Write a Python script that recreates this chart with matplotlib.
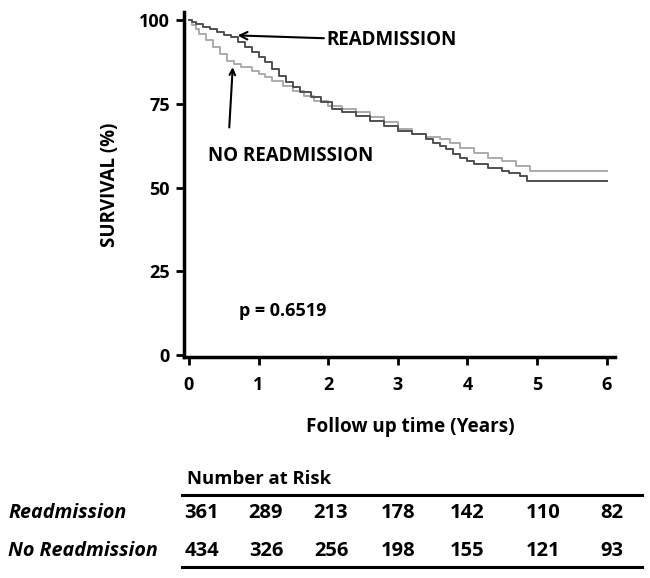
import matplotlib
matplotlib.use("Agg")
import matplotlib.pyplot as plt
from matplotlib.lines import Line2D

plt.rcParams["font.family"] = ["Open Sans", "DejaVu Sans"]
plt.rcParams["font.weight"] = "bold"

# Kaplan-Meier step data
readm_t = [0, 0.05, 0.1, 0.2, 0.3, 0.4, 0.5, 0.6, 0.7, 0.8, 0.9, 1.0, 1.1, 1.2, 1.3,
           1.4, 1.5, 1.6, 1.75, 1.9, 2.05, 2.2, 2.4, 2.6, 2.8, 3.0, 3.2, 3.4, 3.5, 3.6,
           3.7, 3.8, 3.9, 4.0, 4.1, 4.3, 4.5, 4.6, 4.75, 4.85, 6.0]
readm_s = [100, 99.5, 99, 98, 97.5, 96.5, 95.5, 95, 93.5, 92, 90.5, 89, 87.5, 85.5, 83.5,
           81.5, 80, 78.5, 77, 75.5, 73.5, 72.5, 71.5, 70, 68.5, 67, 66, 64.5, 63.5, 62.5,
           61.5, 60, 59, 58, 57, 56, 55, 54.5, 53.5, 52, 52]

noreadm_t = [0, 0.05, 0.1, 0.15, 0.25, 0.35, 0.45, 0.55, 0.65, 0.75, 0.9, 1.0, 1.1, 1.2,
             1.35, 1.5, 1.65, 1.8, 2.0, 2.2, 2.4, 2.6, 2.8, 3.0, 3.2, 3.4, 3.6, 3.75, 3.9,
             4.1, 4.3, 4.5, 4.7, 4.9, 6.0]
noreadm_s = [100, 98.5, 97.5, 96, 94, 92, 90, 88, 87, 86, 85, 84, 83, 82,
             80.5, 79, 77.5, 76, 74.5, 73.5, 72.5, 71, 69.5, 67.5, 66, 65, 64.5, 63.5, 62,
             60.5, 59, 58, 56.5, 55, 55]

years = [0, 1, 2, 3, 4, 5, 6]
yticks = [0, 25, 50, 75, 100]
risk_rows = ["Readmission", "No Readmission"]
risk_readm = [361, 289, 213, 178, 142, 110, 82]
risk_noreadm = [434, 326, 256, 198, 155, 121, 93]

W, H = 650, 578
col_px = [202, 266, 331, 398, 467, 543, 612]   # table column centres (pixels)

fig = plt.figure(figsize=(W / 100, H / 100), dpi=100)
ax = fig.add_axes([184 / W, 1 - 357 / H, 431 / W, 345 / H])

ax.step(noreadm_t, noreadm_s, where="post", color="#ababab", lw=1.4)
ax.step(readm_t, readm_s, where="post", color="#505050", lw=1.4)

ax.set_xlim(-0.07, 6.12)
ax.set_ylim(-0.6, 102.5)
ax.set_xticks(years)
ax.set_yticks(yticks)
for s in ["top", "right"]:
    ax.spines[s].set_visible(False)
for s in ["left", "bottom"]:
    ax.spines[s].set_linewidth(2.5)
ax.tick_params(width=2, length=6, labelsize=13, pad=4)
ax.tick_params(axis="x", pad=8)
ax.set_xlabel("Follow up time (Years)", fontsize=13.6, fontweight="bold")
ax.xaxis.set_label_coords(0.524, -0.174)
ax.set_ylabel("SURVIVAL (%)", fontsize=13.5, fontweight="bold", labelpad=14)

arrow = dict(arrowstyle="->", color="black", lw=1.5, shrinkA=0, shrinkB=0)
ax.annotate("READMISSION", xy=(0.70, 95.5), xytext=(1.98, 94),
            fontsize=13.5, fontweight="bold", va="center", ha="left", arrowprops=arrow)
ax.annotate("", xy=(0.63, 86), xytext=(0.58, 68), arrowprops=arrow)
ax.text(1.46, 59.5, "NO READMISSION", fontsize=13.5, fontweight="bold", ha="center", va="center")
ax.text(0.72, 13, "p = 0.6519", fontsize=13, fontweight="bold", ha="left", va="center")

# number at risk table
fig.text(187 / W, 1 - 479 / H, "Number at Risk", fontsize=13.3, fontweight="bold",
         ha="left", va="center")
fig.add_artist(Line2D([182 / W, 642 / W], [1 - 495 / H] * 2, color="black", lw=2.2))
fig.add_artist(Line2D([182 / W, 642 / W], [1 - 567 / H] * 2, color="black", lw=2.2))
for row, vals, y in [(risk_rows[0], risk_readm, 513), (risk_rows[1], risk_noreadm, 551)]:
    fig.text(8 / W, 1 - y / H, row, fontsize=14.2, fontweight="bold", style="italic",
             ha="left", va="center")
    for x, v in zip(col_px, vals):
        fig.text(x / W, 1 - y / H, str(v), fontsize=14.5, fontweight="bold",
                 ha="center", va="center")

fig.savefig("out.png", dpi=100)
